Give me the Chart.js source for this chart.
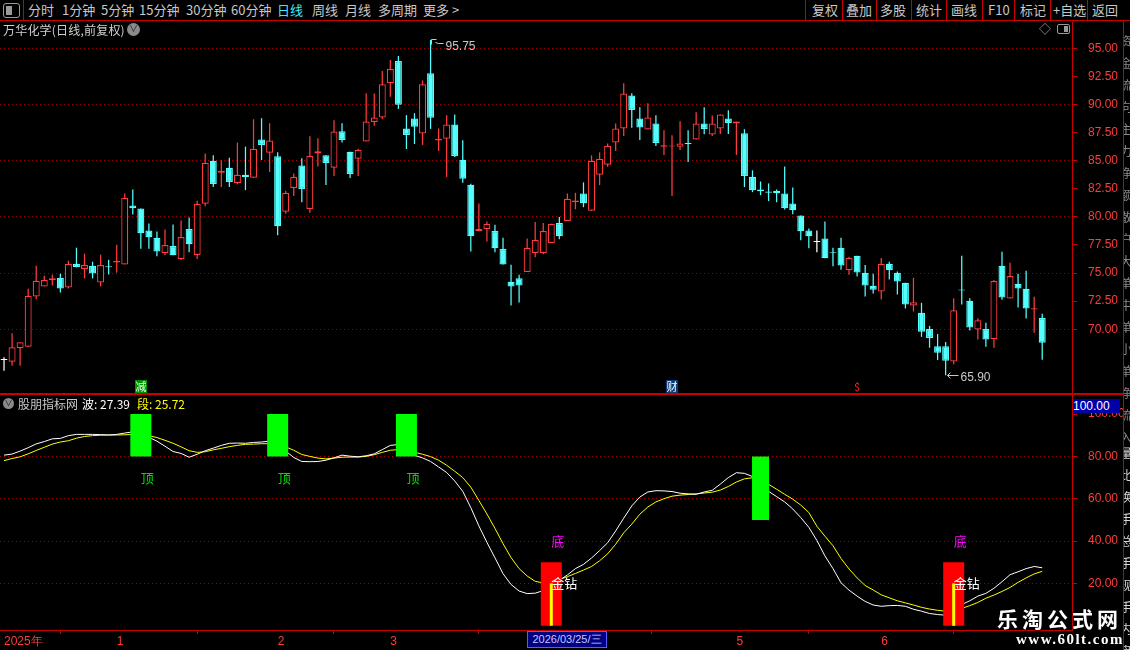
<!DOCTYPE html>
<html>
<head>
<meta charset="utf-8">
<script src="https://cdn.jsdelivr.net/npm/chart.js@4.4.1/dist/chart.umd.min.js"></script>
<style>
  body { margin: 0; background: #000; width: 1130px; height: 650px; overflow: hidden; position: relative;
         font-family: "Noto Sans CJK SC", "Noto Sans", sans-serif; color: #c8c8c8; }
  .a { position: absolute; white-space: nowrap; }
  .tb { top: 0; font-size: 13px; line-height: 20px; color: #c8c8c8; }
  .red { background: #c80000; position: absolute; }
  canvas { position: absolute; left: 0; }
</style>
</head>
<body>

<!-- toolbar -->
<div class="a" style="left:3px;top:3px;width:15px;height:13px;border:1px solid #9a9a9a;border-radius:3px;">
  <div style="position:absolute;left:2px;top:2px;width:6px;height:9px;background:#9a9a9a;"></div>
</div>
<div class="red" style="left:23px;top:0;width:1px;height:20px;"></div>
<span class="a tb" style="left:28px">分时</span>
<span class="a tb" style="left:62px">1分钟</span>
<span class="a tb" style="left:101px">5分钟</span>
<span class="a tb" style="left:139px">15分钟</span>
<span class="a tb" style="left:186px">30分钟</span>
<span class="a tb" style="left:231px">60分钟</span>
<span class="a tb" style="left:277px;color:#3ee8ff">日线</span>
<span class="a tb" style="left:312px">周线</span>
<span class="a tb" style="left:345px">月线</span>
<span class="a tb" style="left:378px">多周期</span>
<span class="a tb" style="left:423px">更多 &gt;</span>

<div class="red" style="left:805px;top:0;width:1px;height:20px;"></div>
<span class="a tb" style="left:812px">复权</span>
<div class="red" style="left:842px;top:0;width:1px;height:20px;"></div>
<span class="a tb" style="left:846px">叠加</span>
<div class="red" style="left:876px;top:0;width:1px;height:20px;"></div>
<span class="a tb" style="left:880px">多股</span>
<div class="red" style="left:911px;top:0;width:1px;height:20px;"></div>
<span class="a tb" style="left:916px">统计</span>
<div class="red" style="left:946px;top:0;width:1px;height:20px;"></div>
<span class="a tb" style="left:951px">画线</span>
<div class="red" style="left:982px;top:0;width:1px;height:20px;"></div>
<span class="a tb" style="left:988px">F10</span>
<div class="red" style="left:1014px;top:0;width:1px;height:20px;"></div>
<span class="a tb" style="left:1020px">标记</span>
<div class="red" style="left:1050px;top:0;width:1px;height:20px;"></div>
<span class="a tb" style="left:1053px">+自选</span>
<div class="red" style="left:1087px;top:0;width:1px;height:20px;"></div>
<span class="a tb" style="left:1092px">返回</span>
<div class="red" style="left:0;top:20px;width:1130px;height:1px;"></div>

<!-- price panel -->
<canvas id="priceCanvas" width="1130" height="372" style="top:22px"></canvas>
<span class="a" style="left:3px;top:21px;font-size:12px;letter-spacing:0.2px;line-height:17px;color:#d0d0d0">万华化学(日线,前复权)</span>
<div class="a" style="left:127px;top:23px;width:13px;height:13px;border-radius:7px;background:#8a8a8a;color:#222;font-size:9px;line-height:12px;text-align:center">&#8744;</div>
<span class="a" style="left:1039px;top:20px;font-size:12px;color:#9a9a9a">&#9671;</span>
<div class="a" style="left:1057px;top:24px;width:11px;height:8px;border:1px solid #9a9a9a;border-radius:2px;">
  <div style="position:absolute;right:1px;top:1px;width:4px;height:6px;background:#9a9a9a;"></div>
</div>

<div class="red" style="left:0;top:393px;width:1123px;height:2px;"></div>

<!-- indicator panel -->
<canvas id="indCanvas" width="1130" height="255" style="top:395px"></canvas>
<div class="a" style="left:3px;top:398px;width:11px;height:11px;border-radius:6px;background:#8a8a8a;color:#222;font-size:8px;line-height:10px;text-align:center">&#8744;</div>
<span class="a" style="left:18px;top:395px;font-size:12px;line-height:17px;color:#c8c8c8">股朋指标网</span>
<span class="a" id="waveTxt" style="left:82px;top:395px;font-size:12px;line-height:17px;color:#ffffff"></span>
<span class="a" id="segTxt" style="left:137px;top:395px;font-size:12px;line-height:17px;color:#ffff00"></span>
<div class="a" style="left:1073px;top:399px;width:47px;height:14px;background:#0000a8;color:#fff;font-family:'Liberation Sans';font-size:12px;line-height:14px;">100.00</div>

<!-- bottom bar -->
<div class="a" style="left:527px;top:631px;width:78px;height:15px;background:#000080;border:1px solid #5a5aff;color:#c8c8ff;font-family:'Liberation Sans';font-size:11px;line-height:15px;text-align:center">2026/03/25/三</div>

<!-- right strip -->
<div class="red" style="left:1123px;top:21px;width:1px;height:629px;"></div>
<div class="a" style="left:1124px;top:22px;width:6px;height:628px;overflow:hidden;">
  <div style="position:absolute;left:-4px;top:8px;width:13px;font-size:12px;line-height:22px;color:#8a8a8a;white-space:normal">资金流向主力净额散户大单中单小单净流入</div>
  <div style="position:absolute;left:-4px;top:420px;width:13px;font-size:12px;line-height:22px;color:#d8d8d8;white-space:normal">量比换手总手现手内盘外盘</div>
</div>

<!-- watermark -->
<div class="a" style="left:997px;top:603px;font-size:21px;font-weight:bold;letter-spacing:4px;color:#fff;text-shadow:0 0 2px #000,0 0 2px #000">乐淘公式网</div>
<div class="a" style="left:1016px;top:631px;font-family:'Liberation Serif';font-size:15px;font-weight:bold;letter-spacing:1.5px;color:#fff;text-shadow:0 0 2px #000">www.60lt.com</div>

<script>
// daily candles, index 0..129
const openPx = [
  67.26, 67.11, 68.30, 68.45, 72.92, 73.81, 74.38, 74.58, 73.72, 75.83,
  75.36, 75.65, 74.17, 75.55, 75.95, 75.77, 81.01, 80.74, 78.78, 78.15,
  76.79, 77.41, 76.25, 78.93, 76.61, 81.16, 85.00, 83.93, 84.38, 83.01,
  83.75, 83.48, 86.88, 85.71, 85.39, 80.45, 82.56, 84.58, 80.71, 85.63,
  85.48, 84.38, 87.62, 85.80, 85.18, 86.70, 88.45, 88.84, 91.88, 93.87,
  87.86, 88.75, 87.41, 92.77, 86.79, 86.96, 88.21, 85.09, 82.86, 78.72,
  78.93, 78.75, 77.14, 74.23, 74.55, 75.09, 76.79, 76.79, 77.68, 79.46,
  79.64, 81.31, 82.08, 80.54, 83.75, 84.64, 86.61, 87.86, 90.80, 88.75,
  87.77, 88.30, 86.25, 86.26, 86.25, 86.55, 86.88, 88.30, 87.32, 87.86,
  88.75, 88.30, 87.44, 83.57, 82.44, 82.26, 82.32, 82.08, 81.19, 80.12,
  78.78, 77.77, 78.07, 76.82, 77.26, 75.24, 76.55, 75.03, 73.87, 73.36,
  75.83, 75.03, 74.14, 72.11, 71.46, 70.03, 68.48, 68.48, 67.14, 73.51,
  72.53, 69.97, 70.03, 69.11, 75.65, 72.74, 74.05, 73.60, 71.76, 71.01
];
const highPx = [
  67.50, 69.64, 68.84, 73.60, 75.65, 74.76, 74.85, 74.94, 76.10, 77.26,
  76.73, 76.01, 76.64, 76.19, 77.53, 82.08, 82.44, 80.74, 79.40, 78.69,
  78.87, 79.32, 79.67, 79.94, 81.43, 85.63, 85.48, 85.03, 85.27, 86.61,
  86.25, 88.69, 88.78, 88.33, 85.74, 82.32, 83.87, 85.21, 87.17, 86.99,
  85.48, 88.60, 88.33, 85.80, 86.07, 91.01, 90.98, 92.98, 93.96, 94.32,
  89.05, 89.23, 92.14, 95.75, 87.86, 89.05, 89.11, 86.82, 82.95, 81.19,
  79.58, 79.29, 78.15, 75.74, 74.85, 78.07, 79.55, 79.46, 79.38, 80.00,
  82.08, 82.14, 83.07, 85.48, 85.74, 86.52, 88.30, 91.90, 91.01, 89.76,
  90.12, 89.05, 87.71, 87.26, 88.51, 87.71, 89.32, 89.76, 89.02, 89.11,
  89.49, 88.48, 87.80, 84.14, 83.15, 82.98, 82.44, 84.49, 82.62, 80.12,
  78.96, 78.78, 79.58, 77.26, 78.15, 76.46, 76.55, 75.71, 74.94, 76.34,
  76.01, 75.15, 74.14, 74.58, 72.35, 70.30, 69.58, 68.87, 72.77, 76.55,
  72.77, 70.98, 70.57, 74.38, 76.90, 75.92, 74.94, 75.21, 72.89, 71.37
];
const lowPx = [
  66.31, 66.76, 66.76, 68.45, 72.68, 73.81, 73.90, 73.27, 73.63, 75.51,
  74.52, 74.52, 73.81, 74.88, 75.06, 75.77, 80.21, 77.17, 77.17, 76.49,
  76.58, 76.58, 76.13, 76.85, 76.25, 80.95, 82.65, 82.65, 82.65, 82.89,
  82.38, 83.48, 85.06, 83.99, 78.36, 80.27, 81.85, 81.31, 80.36, 84.49,
  82.83, 83.63, 86.61, 83.45, 83.63, 86.70, 88.10, 88.72, 90.68, 89.61,
  86.04, 86.49, 86.40, 87.83, 85.86, 83.54, 85.33, 83.04, 76.93, 78.72,
  77.80, 76.85, 75.77, 72.11, 72.38, 75.09, 76.40, 76.67, 77.68, 78.00,
  79.64, 80.68, 80.86, 80.54, 82.83, 84.46, 85.86, 87.20, 87.92, 86.85,
  87.77, 86.31, 85.51, 81.85, 85.95, 84.88, 86.88, 87.35, 87.20, 87.38,
  87.38, 85.51, 82.65, 82.20, 81.93, 81.40, 81.31, 80.65, 80.24, 77.92,
  77.20, 76.85, 76.31, 75.60, 75.30, 74.85, 74.70, 72.92, 73.18, 72.65,
  74.43, 73.10, 71.85, 71.58, 69.32, 68.36, 67.26, 65.90, 66.88, 72.20,
  69.88, 69.08, 68.45, 68.36, 72.62, 72.74, 71.93, 70.95, 69.70, 67.29
];
const closePx = [
  67.26, 68.39, 68.84, 72.98, 74.32, 74.38, 74.55, 73.63, 75.80, 75.51,
  75.71, 74.97, 75.71, 75.51, 76.10, 81.70, 80.77, 78.54, 78.18, 76.93,
  77.50, 76.58, 78.21, 77.56, 81.16, 84.82, 82.92, 84.11, 83.10, 83.75,
  83.54, 86.07, 86.40, 86.79, 79.17, 82.14, 83.57, 82.47, 85.45, 85.83,
  84.79, 87.59, 86.85, 83.81, 85.98, 88.48, 88.84, 91.79, 93.15, 89.97,
  87.29, 88.01, 91.79, 88.81, 86.96, 88.21, 85.42, 83.39, 78.27, 78.93,
  79.38, 77.20, 75.77, 73.81, 73.90, 77.23, 77.95, 78.75, 79.38, 78.27,
  81.61, 81.46, 81.22, 85.00, 85.18, 86.34, 87.86, 90.98, 89.52, 87.95,
  88.84, 86.58, 86.37, 86.30, 86.52, 86.49, 88.30, 87.83, 88.30, 89.11,
  88.36, 88.48, 83.63, 82.38, 82.29, 82.14, 82.11, 80.77, 80.60, 78.72,
  78.27, 77.77, 76.31, 76.76, 75.68, 76.37, 75.06, 73.90, 73.51, 75.83,
  75.24, 74.26, 72.20, 72.41, 69.79, 69.23, 67.92, 67.20, 71.70, 73.45,
  70.15, 70.80, 69.08, 74.29, 72.83, 74.73, 73.63, 71.85, 71.88, 68.81
];
const priceTicks = [95, 92.5, 90, 87.5, 85, 82.5, 80, 77.5, 75, 72.5, 70];

// indicator: 波 (white) and 段 (yellow)
const waveLine = [
  80.6, 81.1, 82.5, 84.1, 85.9, 87.0, 88.3, 88.5, 89.8, 90.4,
  90.4, 90.4, 90.3, 90.1, 90.4, 91.0, 91.6, 90.6, 89.0, 87.2,
  84.8, 82.3, 81.4, 79.6, 81.0, 82.7, 83.9, 85.2, 86.2, 86.3,
  86.2, 86.6, 86.8, 87.2, 85.5, 82.5, 79.5, 77.6, 77.5, 77.6,
  78.2, 79.3, 80.6, 80.1, 79.8, 80.3, 81.2, 83.2, 85.2, 85.6,
  84.0, 80.5, 79.3, 77.6, 75.0, 72.4, 68.4, 63.5, 55.8, 47.2,
  39.4, 32.1, 24.6, 19.5, 16.4, 15.2, 15.4, 16.6, 19.0, 21.5,
  24.0, 27.0, 29.0, 32.0, 35.5, 39.2, 44.8, 50.8, 56.6, 60.8,
  63.2, 63.8, 63.7, 63.4, 62.6, 62.3, 62.1, 63.2, 64.0, 66.9,
  70.0, 72.3, 72.0, 70.5, 67.0, 63.5, 61.0, 58.5, 55.2, 51.1,
  46.5, 40.3, 33.0, 27.0, 20.3, 16.8, 14.0, 11.5, 9.8, 9.2,
  9.5, 9.6, 9.2, 7.8, 6.9, 5.8, 5.3, 5.0, 7.5, 10.0,
  11.8, 14.0, 15.3, 17.7, 20.8, 24.1, 25.5, 27.0, 28.0, 27.39
];
const segLine = [
  78.0, 79.0, 79.8, 81.2, 82.8, 84.3, 85.8, 86.8, 87.4, 88.6,
  89.4, 89.8, 90.0, 90.1, 90.1, 90.2, 90.4, 90.2, 89.8, 88.9,
  87.6, 86.2, 84.5, 82.7, 81.9, 82.2, 83.1, 83.8, 84.6, 85.2,
  85.7, 85.8, 86.0, 86.0, 85.5, 84.5, 82.9, 80.9, 80.0, 79.2,
  78.8, 79.2, 79.6, 79.7, 79.7, 80.0, 80.8, 81.9, 82.9, 83.2,
  82.9, 82.0, 81.0, 79.9, 78.2, 75.8, 73.0, 70.0, 65.5, 59.2,
  52.8, 46.0, 38.8, 32.2, 27.0, 23.5, 21.0, 20.2, 20.5, 21.8,
  23.2, 24.7, 26.3, 28.0, 30.7, 34.0, 38.5, 43.9, 48.0, 52.7,
  56.1, 58.5, 60.0, 61.2, 61.7, 62.0, 62.3, 62.7, 63.1, 64.1,
  65.8, 67.9, 69.4, 69.9, 68.5, 66.8, 64.5, 62.1, 59.8, 57.0,
  53.5, 47.0, 42.3, 37.8, 31.8, 26.8, 22.6, 19.0, 16.9, 14.6,
  13.2, 11.8, 10.8, 9.8, 8.7, 7.9, 7.3, 6.9, 7.5, 8.2,
  9.5, 11.0, 13.0, 14.5, 16.2, 18.1, 20.5, 22.6, 24.5, 25.72
];
const indTicks = [100, 80, 60, 40, 20];

// signals
const topIdx = [17, 34, 50];
const topRange = [80, 100];
const sellIdx = [94];
const sellRange = [50, 80];
const bottomIdx = [68, 118];
const bottomRange = [0, 30];
const diamondRange = [0, 20];

// event flags between the panels
const eventIdx = [17, 83, 106];
const eventText = ['减', '财', '$'];

// month ticks on the date axis
const monthTickIdx = [0, 14, 34, 48, 70, 91, 109];
const monthTickLabels = ['2025年', '1', '2', '3', '4', '5', '6'];

Chart.defaults.font.family = '"Liberation Sans", sans-serif';
Chart.defaults.animation = false;

const UP = '#ff3c3c', DOWN = '#54ffff', FLAT = '#ffffff';
const AXIS_RED = '#ff3c3c', LINE_RED = '#c80000', GRID_RED = '#a00000';

function candleColor(i) {
    if (closePx[i] > openPx[i]) return UP;
    if (closePx[i] < openPx[i]) return DOWN;
    return FLAT;
}

// no label padding, so the plot fills its canvas exactly
function noPad(axis) {
    axis.paddingTop = 0;
    axis.paddingBottom = 0;
    axis.paddingLeft = 0;
    axis.paddingRight = 0;
}

const xRange = { type: 'linear', min: -0.5, max: 132.7, offset: false };

document.getElementById('waveTxt').textContent = '波: ' + waveLine[waveLine.length - 1].toFixed(2);
document.getElementById('segTxt').textContent = '段: ' + segLine[segLine.length - 1].toFixed(2);

const priceMarks = {
    id: 'priceMarks',
    afterDatasetsDraw(chart) {
        const { ctx, chartArea, scales: { x, y } } = chart;
        ctx.save();
        ctx.strokeStyle = '#c8c8c8';
        ctx.fillStyle = '#c8c8c8';
        ctx.lineWidth = 1;
        ctx.font = '12px "Liberation Sans"';
        ctx.textBaseline = 'middle';
        ctx.textAlign = 'left';

        const hi = highPx.indexOf(Math.max(...highPx));
        let px = Math.round(x.getPixelForValue(hi)) + 0.5;
        let py = Math.round(y.getPixelForValue(highPx[hi])) + 0.5;
        ctx.beginPath();
        ctx.moveTo(px, py + 4);
        ctx.lineTo(px, py - 1);
        ctx.lineTo(px + 5, py - 1);
        ctx.moveTo(px + 4, py + 2);
        ctx.lineTo(px + 7, py + 3);
        ctx.lineTo(px + 12, py + 3);
        ctx.stroke();
        ctx.fillText(highPx[hi].toFixed(2), px + 14, py + 6);

        const lo = lowPx.indexOf(Math.min(...lowPx));
        px = Math.round(x.getPixelForValue(lo)) + 0.5;
        py = Math.round(y.getPixelForValue(lowPx[lo])) + 0.5;
        ctx.beginPath();
        ctx.moveTo(px + 1, py);
        ctx.lineTo(px + 12, py);
        ctx.moveTo(px + 1, py);
        ctx.lineTo(px + 4, py - 3);
        ctx.moveTo(px + 1, py);
        ctx.lineTo(px + 4, py + 3);
        ctx.stroke();
        ctx.fillText(lowPx[lo].toFixed(2), px + 14, py + 2);

        // event flags
        const flagStyle = { '减': ['#009000', '#d8ffd8'], '财': ['#0a3d78', '#ffffff'], '$': [null, '#ff2020'] };
        ctx.font = '11px "Noto Sans CJK SC"';
        ctx.textAlign = 'center';
        eventIdx.forEach((idx, k) => {
            const ex = Math.round(x.getPixelForValue(idx));
            const ey = chartArea.bottom - 8;
            const st = flagStyle[eventText[k]];
            if (st[0]) {
                ctx.fillStyle = st[0];
                ctx.fillRect(ex - 6, ey - 6, 12, 13);
            }
            ctx.fillStyle = st[1];
            ctx.fillText(eventText[k], ex, ey + 1);
        });
        ctx.restore();
    }
};

new Chart(document.getElementById('priceCanvas'), {
    type: 'bar',
    data: {
        datasets: [
            {
                data: openPx.map((o, i) => ({ x: i, y: [o, closePx[i]] })),
                order: 1,
                grouped: false,
                barThickness: 7,
                minBarLength: 1,
                borderWidth: 1.25,
                borderSkipped: false,
                inflateAmount: 0,
                borderColor: ctx => candleColor(ctx.dataIndex),
                backgroundColor: ctx => closePx[ctx.dataIndex] > openPx[ctx.dataIndex] ? '#000000' : candleColor(ctx.dataIndex)
            },
            {
                data: lowPx.map((l, i) => ({ x: i, y: [l, highPx[i]] })),
                order: 2,
                grouped: false,
                barThickness: 1.25,
                borderWidth: 0,
                inflateAmount: 0,
                backgroundColor: ctx => candleColor(ctx.dataIndex)
            }
        ]
    },
    options: {
        responsive: false,
        devicePixelRatio: 1,
        layout: { padding: 0, autoPadding: false },
        plugins: { legend: { display: false }, tooltip: { enabled: false } },
        scales: {
            x: { ...xRange, display: false },
            y: {
                position: 'right',
                min: 64.24,
                max: 97.34,
                afterFit: axis => { axis.width = 58; noPad(axis); },
                afterBuildTicks: axis => { axis.ticks = priceTicks.map(v => ({ value: v })); },
                ticks: { color: AXIS_RED, font: { size: 12 }, padding: 11, callback: v => Number(v).toFixed(2) },
                grid: {
                    color: ctx => (ctx.tick && ctx.tick.value % 5 === 0) ? GRID_RED : 'rgba(0,0,0,0)',
                    tickColor: LINE_RED,
                    tickLength: 5
                },
                border: { display: true, color: LINE_RED, dash: [1, 3] }
            }
        }
    },
    plugins: [priceMarks]
});

const signalMarks = {
    id: 'signalMarks',
    afterDatasetsDraw(chart) {
        const { ctx, scales: { x, y } } = chart;
        ctx.save();
        ctx.font = '13px "Noto Sans CJK SC"';
        ctx.textBaseline = 'middle';
        ctx.textAlign = 'left';
        ctx.fillStyle = '#00e000';
        topIdx.forEach(i => ctx.fillText('顶', x.getPixelForValue(i), y.getPixelForValue(70)));
        ctx.fillStyle = '#ff00ff';
        bottomIdx.forEach(i => ctx.fillText('底', x.getPixelForValue(i), y.getPixelForValue(40)));
        ctx.fillStyle = '#ffffff';
        bottomIdx.forEach(i => ctx.fillText('金钻', x.getPixelForValue(i), y.getPixelForValue(20)));
        ctx.restore();
    }
};

new Chart(document.getElementById('indCanvas'), {
    type: 'bar',
    data: {
        datasets: [
            {
                data: topIdx.map(i => ({ x: i, y: topRange })),
                backgroundColor: '#00ff00',
                barThickness: 21, grouped: false, order: 0, inflateAmount: 0
            },
            {
                data: sellIdx.map(i => ({ x: i, y: sellRange })),
                backgroundColor: '#00ff00',
                barThickness: 17, grouped: false, order: 0, inflateAmount: 0
            },
            {
                data: bottomIdx.map(i => ({ x: i, y: bottomRange })),
                backgroundColor: '#ff0000',
                barThickness: 21, grouped: false, order: 0, inflateAmount: 0
            },
            {
                data: bottomIdx.map(i => ({ x: i, y: diamondRange })),
                backgroundColor: '#ffff00',
                barThickness: 3, grouped: false, order: -1, inflateAmount: 0
            },
            {
                type: 'line',
                data: waveLine.map((v, i) => ({ x: i, y: v })),
                borderColor: '#ffffff', borderWidth: 1, pointRadius: 0, tension: 0, order: 2
            },
            {
                type: 'line',
                data: segLine.map((v, i) => ({ x: i, y: v })),
                borderColor: '#ffff00', borderWidth: 1, pointRadius: 0, tension: 0, order: 3
            }
        ]
    },
    options: {
        responsive: false,
        devicePixelRatio: 1,
        layout: { padding: 0, autoPadding: false },
        plugins: { legend: { display: false }, tooltip: { enabled: false } },
        scales: {
            x: {
                ...xRange,
                position: 'bottom',
                afterFit: axis => { axis.height = 20; noPad(axis); },
                afterBuildTicks: axis => { axis.ticks = monthTickIdx.map(v => ({ value: v })); },
                ticks: {
                    color: AXIS_RED, font: { size: 12 }, padding: 0, align: 'start',
                    maxRotation: 0, autoSkip: false,
                    callback: v => monthTickLabels[monthTickIdx.indexOf(v)]
                },
                grid: { drawOnChartArea: false, tickColor: LINE_RED, tickLength: 4 },
                border: { display: true, color: LINE_RED }
            },
            y: {
                position: 'right',
                min: -2,
                max: 109,
                afterFit: axis => { axis.width = 58; noPad(axis); },
                afterBuildTicks: axis => { axis.ticks = indTicks.map(v => ({ value: v })); },
                ticks: { color: AXIS_RED, font: { size: 12 }, padding: 11, callback: v => Number(v).toFixed(2) },
                grid: {
                    color: ctx => (ctx.tick && ctx.tick.value < 100) ? GRID_RED : 'rgba(0,0,0,0)',
                    tickColor: LINE_RED,
                    tickLength: 5
                },
                border: { display: true, color: LINE_RED, dash: [1, 3] }
            }
        }
    },
    plugins: [signalMarks]
});
</script>
</body>
</html>
